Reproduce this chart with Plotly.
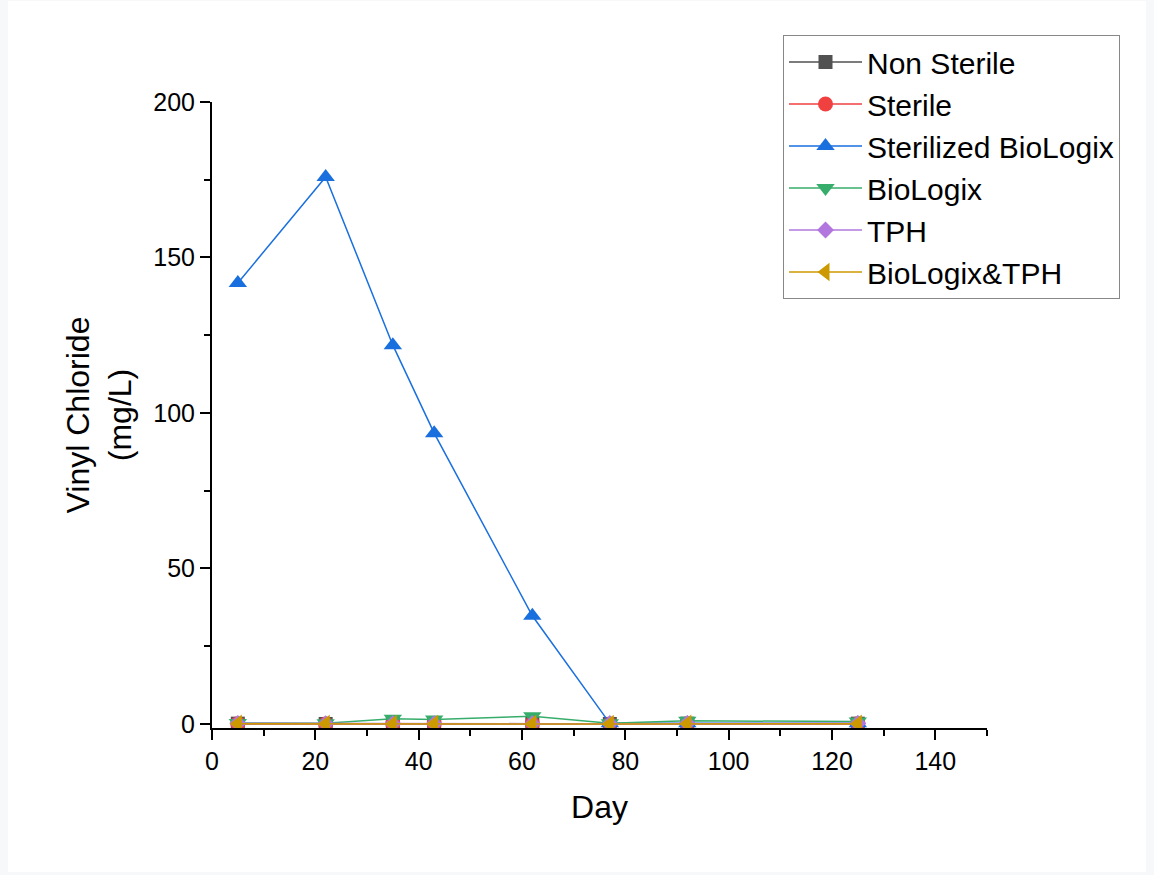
import plotly.graph_objects as go

days = [5, 22, 35, 43, 62, 77, 92, 125]

series_names = ["Non Sterile", "Sterile", "Sterilized BioLogix", "BioLogix", "TPH", "BioLogix&TPH"]
non_sterile = [0.1, 0.0, 0.1, 0.1, 0.1, 0.0, 0.1, 0.1]
sterile = [0.1, 0.0, 0.1, 0.1, 0.1, 0.0, 0.1, 0.1]
sterilized_biologix = [141.8, 175.9, 121.8, 93.5, 34.8, 0.2, 0.2, 0.2]
biologix = [0.3, 0.2, 1.7, 1.4, 2.5, 0.2, 1.0, 0.8]
tph = [0.2, 0.1, 0.1, 0.1, 0.1, 0.1, 0.2, 0.2]
biologix_tph = [0.1, 0.0, 0.0, 0.0, 0.0, 0.0, 0.1, 0.1]

values = [non_sterile, sterile, sterilized_biologix, biologix, tph, biologix_tph]
colors = ["#515151", "#F14040", "#1A6FDF", "#37AD6B", "#B177DE", "#CC9900"]
symbols = ["square", "circle", "triangle-up", "triangle-down", "diamond", "triangle-left"]
sizes = [14, 15, 16, 16, 13, 16]

x_ticks = [0, 20, 40, 60, 80, 100, 120, 140]
y_ticks = [0, 50, 100, 150, 200]

fig = go.Figure()
for name, vals, col, sym, sz in zip(series_names, values, colors, symbols, sizes):
    fig.add_trace(go.Scatter(
        x=days, y=vals, name=name, mode="lines+markers",
        line=dict(color=col, width=1.5),
        marker=dict(symbol=sym, color=col, size=sz, line=dict(width=0)),
        legendgroup=name,
    ))

W, H = 1154, 875
L, R, T, B = 212, 987, 102, 728
pw, ph = R - L, B - T

def px(xp):
    return (xp - L) / pw

def py(yp):
    return (B - yp) / ph

fig.add_shape(type="rect", xref="paper", yref="paper",
              x0=px(8), x1=px(1146), y0=py(872), y1=py(1),
              fillcolor="white", line=dict(width=0), layer="below")

axis_common = dict(
    showgrid=False, zeroline=False, showline=True, linecolor="black", linewidth=2,
    ticks="outside", ticklen=10, tickwidth=2, tickcolor="black",
    tickfont=dict(family="Liberation Sans, Arial", size=25, color="black"),
    mirror=False,
)

fig.update_layout(
    width=W, height=H,
    margin=dict(l=L, r=W - R, t=T, b=H - B),
    paper_bgcolor="#f7f8fa",
    plot_bgcolor="white",
    font=dict(family="Liberation Sans, Arial", color="black"),
    xaxis=dict(
        range=[0, 150], tickvals=x_ticks,
        title=dict(text="Day", font=dict(size=32), standoff=22),
        minor=dict(ticks="outside", ticklen=6, tickwidth=2, tickcolor="black", dtick=10),
        **axis_common,
    ),
    yaxis=dict(
        range=[-1.3, 200], tickvals=y_ticks,
        title=dict(text="Vinyl Chloride<br>(mg/L)", font=dict(size=32), standoff=12),
        minor=dict(ticks="outside", ticklen=6, tickwidth=2, tickcolor="black", dtick=25),
        **axis_common,
    ),
    legend=dict(
        x=px(783), y=py(35), xanchor="left", yanchor="top",
        bgcolor="white", bordercolor="#888888", borderwidth=1,
        font=dict(size=30, color="black"),
        traceorder="grouped", tracegroupgap=0,
        itemwidth=73,
    ),
    showlegend=True,
)

fig.write_html("out.html")
